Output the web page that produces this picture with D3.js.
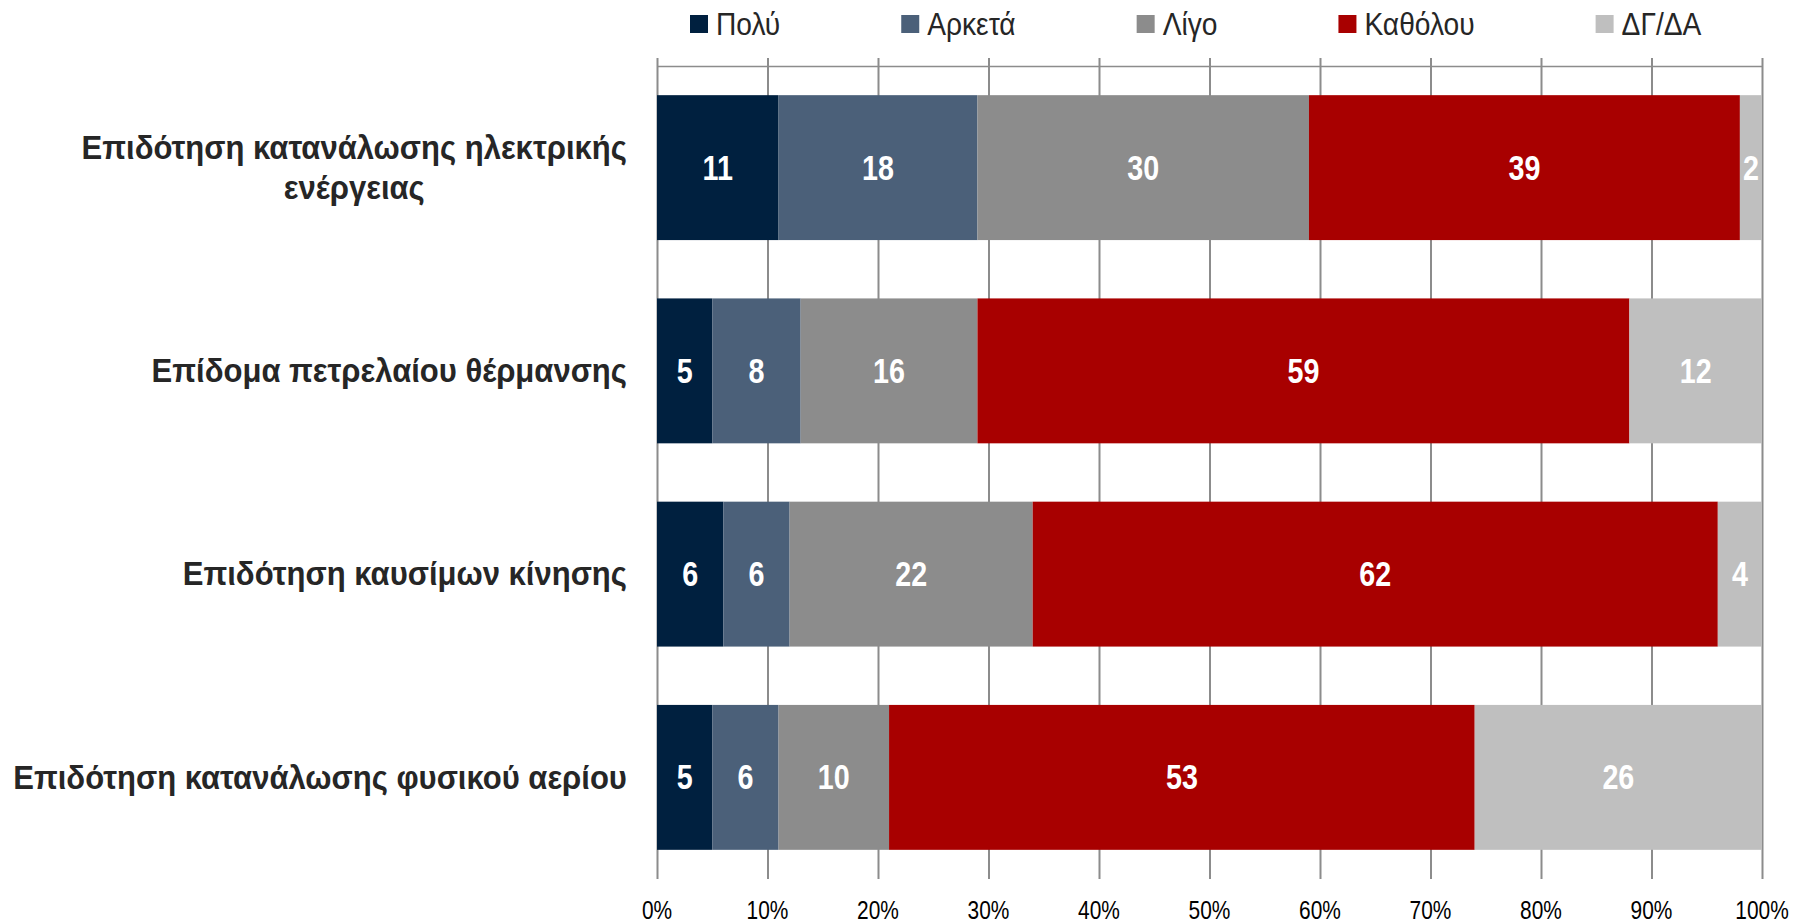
<!DOCTYPE html>
<html>
<head>
<meta charset="utf-8">
<script src="https://cdn.jsdelivr.net/npm/d3@7"></script>
<style>
    body { margin: 0; background: #ffffff; }
    svg { display: block; }
    .tick-label { font-family: "Liberation Sans", Arial, sans-serif; font-size: 25.5px; fill: #000000; }
    .legend-label { font-family: "Liberation Sans", Arial, sans-serif; font-size: 32px; fill: #262626; }
    .value-label { font-family: "Liberation Sans", Arial, sans-serif; font-size: 35px; font-weight: bold; fill: #ffffff; }
    .cat-label { font-family: "Liberation Sans", Arial, sans-serif; font-size: 33px; font-weight: bold; fill: #262626; }
</style>
</head>
<body>
<div id="chart"></div>
<script>
const categories = [
    ["Επιδότηση κατανάλωσης ηλεκτρικής", "ενέργειας"],
    ["Επίδομα πετρελαίου θέρμανσης"],
    ["Επιδότηση καυσίμων κίνησης"],
    ["Επιδότηση κατανάλωσης φυσικού αερίου"]
];
const seriesNames = ["Πολύ", "Αρκετά", "Λίγο", "Καθόλου", "ΔΓ/ΔΑ"];
const seriesColors = ["#00203f", "#4b6079", "#8c8c8c", "#a80000", "#bfbfbf"];
const poluValues = [11, 5, 6, 5];
const arketaValues = [18, 8, 6, 6];
const ligoValues = [30, 16, 22, 10];
const katholouValues = [39, 59, 62, 53];
const dkdaValues = [2, 12, 4, 26];
const tickValues = [0, 10, 20, 30, 40, 50, 60, 70, 80, 90, 100];

const WIDTH = 1793;
const HEIGHT = 924;
const plotLeft = 657;
const plotRight = 1762;
const plotTop = 66;
const plotBottom = 879;
const labelRight = 627;
const gridColor = "#8c8c8c";
// no narrow font installed, so squeeze the text sideways
const narrow = 0.82;
const legendNarrow = 0.88;
const catNarrow = 0.94;

function squeeze(x, y, s) {
    return `translate(${ x }, ${ y }) scale(${ s }, 1)`;
}

function buildRows() {
    let series = [poluValues, arketaValues, ligoValues, katholouValues, dkdaValues];
    return categories.map((cat, i) => {
        let row = { key: i };
        seriesNames.forEach((name, j) => row[name] = series[j][i]);
        return row;
    });
}

function setChart(chartId) {
    let svg = d3.select(`#${ chartId }`)
        .append("svg")
            .attr("width", WIDTH)
            .attr("height", HEIGHT);

    let rows = buildRows();

    let scaleX = d3.scaleLinear()
        .domain([0, 100])
        .range([plotLeft, plotRight]);

    let scaleY = d3.scaleBand()
        .domain(rows.map(d => d.key))
        .range([plotTop, plotBottom])
        .paddingInner(0.287)
        .paddingOuter(0.1435);

    let color = d3.scaleOrdinal()
        .domain(seriesNames)
        .range(seriesColors);

    let stacked = d3.stack().keys(seriesNames)(rows);

    // gridlines behind the bars
    let axis = d3.axisTop(scaleX)
        .tickValues(tickValues)
        .tickSize(-(plotBottom - plotTop))
        .tickSizeOuter(0)
        .tickFormat("");

    let grid = svg.append("g")
        .attr("id", "grid")
        .attr("transform", `translate(0, ${ plotTop })`)
        .call(axis);
    grid.select(".domain")
        .attr("stroke", gridColor)
        .attr("stroke-width", 1.5);
    grid.selectAll(".tick line")
        .attr("stroke", gridColor)
        .attr("stroke-width", 2)
        .attr("y1", -8);

    svg.append("g")
        .selectAll("g")
        .data(stacked)
        .enter()
        .append("g")
            .attr("fill", d => color(d.key))
        .selectAll("rect")
        .data(d => d)
        .enter()
        .append("rect")
            .attr("x", d => scaleX(d[0]))
            .attr("y", d => scaleY(d.data.key))
            .attr("width", d => scaleX(d[1]) - scaleX(d[0]))
            .attr("height", scaleY.bandwidth());

    svg.append("clipPath")
        .attr("id", "plot-clip")
        .append("rect")
            .attr("x", plotLeft)
            .attr("y", plotTop)
            .attr("width", plotRight - plotLeft + 1)
            .attr("height", plotBottom - plotTop);

    svg.append("g")
        .attr("clip-path", "url(#plot-clip)")
        .selectAll("g")
        .data(stacked)
        .enter()
        .append("g")
        .selectAll("text")
        .data(d => d)
        .enter()
        .append("text")
            .attr("class", "value-label")
            .attr("transform", d => squeeze(scaleX((d[0] + d[1]) / 2), scaleY(d.data.key) + scaleY.bandwidth() / 2, narrow))
            .attr("text-anchor", "middle")
            .attr("dominant-baseline", "central")
            .text(d => d[1] - d[0]);

    // bottom tick labels
    svg.append("g")
        .selectAll("text")
        .data(tickValues)
        .enter()
        .append("text")
            .attr("class", "tick-label")
            .attr("transform", d => squeeze(scaleX(d), 919, narrow))
            .attr("text-anchor", "middle")
            .text(d => `${ d }%`);

    setCategoryLabels(svg, rows, scaleY);
    setLegend(svg, color);
}

function setCategoryLabels(svg, rows, scaleY) {
    let lineHeight = 40;
    rows.forEach((row, i) => {
        let lines = categories[i];
        let cy = scaleY(row.key) + scaleY.bandwidth() / 2;
        let text = svg.append("text")
            .attr("class", "cat-label")
            .attr("text-anchor", "middle");
        lines.forEach((line, k) => {
            text.append("tspan")
                .attr("x", 0)
                .attr("y", (k - (lines.length - 1) / 2) * lineHeight)
                .attr("dominant-baseline", "central")
                .text(line);
        });
        let w = text.node().getBBox().width * catNarrow;
        text.attr("transform", squeeze(labelRight - w / 2, cy, catNarrow));
    });
}

function setLegend(svg, color) {
    let box = 18;
    let gapText = 8;
    let gapItem = 121;
    let x = 690;
    let legend = svg.append("g").attr("id", "legend");
    seriesNames.forEach(name => {
        legend.append("rect")
            .attr("x", x)
            .attr("y", 15)
            .attr("width", box)
            .attr("height", box)
            .attr("fill", color(name));
        let t = legend.append("text")
            .attr("class", "legend-label")
            .attr("transform", squeeze(x + box + gapText, 24, legendNarrow))
            .attr("dominant-baseline", "central")
            .text(name);
        x += box + gapText + t.node().getComputedTextLength() * legendNarrow + gapItem;
    });
}

setChart("chart");
</script>
</body>
</html>
